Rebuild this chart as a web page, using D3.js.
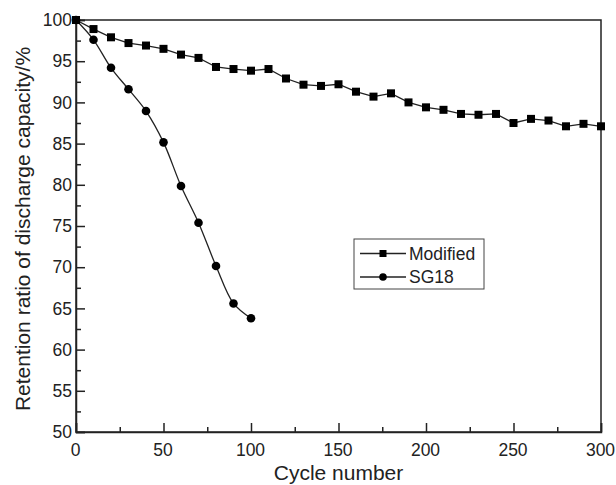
<!DOCTYPE html>
<html>
<head>
<meta charset="utf-8">
<script src="https://cdn.jsdelivr.net/npm/d3@7"></script>
<style>
  html, body { margin: 0; padding: 0; background: #fff; }
  svg { display: block; font-family: "Liberation Sans", Arial, sans-serif; }
</style>
</head>
<body>
<script>
const cycles = [0,10,20,30,40,50,60,70,80,90,100,110,120,130,140,150,160,170,180,190,200,210,220,230,240,250,260,270,280,290,300];
const modifiedValues = [100,98.9,97.9,97.2,96.9,96.5,95.8,95.4,94.3,94.05,93.85,94.05,92.9,92.15,92.0,92.2,91.3,90.7,91.1,90.0,89.4,89.1,88.6,88.5,88.6,87.5,88.0,87.8,87.1,87.4,87.1];
const sgCycles = [0,10,20,30,40,50,60,70,80,90,100];
const sgValues = [100,97.6,94.2,91.6,88.95,85.15,79.85,75.4,70.15,65.6,63.8];
const xTicks = [0,50,100,150,200,250,300];
const xMinor = [25,75,125,175,225,275];
const yTicks = [50,55,60,65,70,75,80,85,90,95,100];
const yMinor = [52.5,57.5,62.5,67.5,72.5,77.5,82.5,87.5,92.5,97.5];
const seriesNames = ["Modified", "SG18"];

const W = 616, H = 485;
const m = {left: 76, top: 20, right: 601, bottom: 432};
const svg = d3.select("body").append("svg").attr("width", W).attr("height", H);

const x = d3.scaleLinear().domain([0, 300]).range([m.left, m.right]);
const y = d3.scaleLinear().domain([50, 100]).range([m.bottom, m.top]);
const ink = "#222";

// frame
svg.append("rect").attr("x", m.left).attr("y", m.top)
  .attr("width", m.right - m.left).attr("height", m.bottom - m.top)
  .attr("fill", "none").attr("stroke", ink).attr("stroke-width", 1.5);

// x axis
const xAxis = d3.axisBottom(x).tickValues(xTicks).tickSize(-9).tickPadding(12).tickFormat(d3.format("d"));
const gx = svg.append("g").attr("transform", `translate(0,${m.bottom})`).call(xAxis);
gx.select(".domain").attr("stroke", ink).attr("stroke-width", 1.5);
gx.selectAll(".tick line").attr("stroke", ink).attr("stroke-width", 1.5);
gx.selectAll(".tick text").attr("font-size", 17.5).attr("fill", ink).attr("font-family", "Liberation Sans, Arial, sans-serif").attr("dx", -1);
const gxm = svg.append("g").attr("transform", `translate(0,${m.bottom})`)
  .call(d3.axisBottom(x).tickValues(xMinor).tickSize(-5).tickFormat(""));
gxm.select(".domain").remove();
gxm.selectAll(".tick line").attr("stroke", ink).attr("stroke-width", 1.5);

// y axis
const yAxis = d3.axisLeft(y).tickValues(yTicks).tickSize(-9).tickPadding(4).tickFormat(d3.format("d"));
const gy = svg.append("g").attr("transform", `translate(${m.left},0)`).call(yAxis);
gy.select(".domain").attr("stroke", ink).attr("stroke-width", 1.5);
gy.selectAll(".tick line").attr("stroke", ink).attr("stroke-width", 1.5);
gy.selectAll(".tick text").attr("font-size", 17.5).attr("fill", ink).attr("font-family", "Liberation Sans, Arial, sans-serif");
const gym = svg.append("g").attr("transform", `translate(${m.left},0)`)
  .call(d3.axisLeft(y).tickValues(yMinor).tickSize(-5).tickFormat(""));
gym.select(".domain").remove();
gym.selectAll(".tick line").attr("stroke", ink).attr("stroke-width", 1.5);

// titles
svg.append("text").attr("x", (m.left + m.right) / 2).attr("y", 480)
  .attr("text-anchor", "middle").attr("font-size", 21).attr("fill", ink).text("Cycle number");
svg.append("text").attr("transform", `translate(30,${(m.top + m.bottom) / 2 + 3}) rotate(-90)`)
  .attr("text-anchor", "middle").attr("font-size", 21).attr("fill", ink)
  .text("Retention ratio of discharge capacity/%");

// series
const modData = cycles.map((c, i) => ({c, v: modifiedValues[i]}));
const sgData = sgCycles.map((c, i) => ({c, v: sgValues[i]}));
const lineLin = d3.line().x(d => x(d.c)).y(d => y(d.v));
const lineSmooth = d3.line().x(d => x(d.c)).y(d => y(d.v)).curve(d3.curveCatmullRom);

svg.append("path").datum(modData).attr("d", lineLin)
  .attr("fill", "none").attr("stroke", ink).attr("stroke-width", 1.3);
svg.append("path").datum(sgData).attr("d", lineSmooth)
  .attr("fill", "none").attr("stroke", ink).attr("stroke-width", 1.3);

const sq = 8;
svg.append("g").selectAll("rect").data(modData).join("rect")
  .attr("x", d => x(d.c) - sq / 2).attr("y", d => y(d.v) - sq / 2)
  .attr("width", sq).attr("height", sq).attr("fill", "#000");
svg.append("g").selectAll("circle").data(sgData).join("circle")
  .attr("cx", d => x(d.c)).attr("cy", d => y(d.v)).attr("r", 4.3).attr("fill", "#000");

// legend
const lg = svg.append("g");
lg.append("rect").attr("x", 354).attr("y", 239).attr("width", 130).attr("height", 50)
  .attr("fill", "#fff").attr("stroke", "#444").attr("stroke-width", 1);
seriesNames.forEach((name, i) => {
  const yy = 253.5 + i * 23.5;
  lg.append("line").attr("x1", 360).attr("x2", 406).attr("y1", yy).attr("y2", yy)
    .attr("stroke", ink).attr("stroke-width", 1.3);
  if (i === 0) {
    lg.append("rect").attr("x", 383 - 3.5).attr("y", yy - 3.5).attr("width", 7).attr("height", 7).attr("fill", "#000");
  } else {
    lg.append("circle").attr("cx", 383).attr("cy", yy).attr("r", 3.8).attr("fill", "#000");
  }
  lg.append("text").attr("x", 409).attr("y", yy).attr("dy", "0.36em")
    .attr("font-size", 17.5).attr("fill", ink).text(name);
});
</script>
</body>
</html>
